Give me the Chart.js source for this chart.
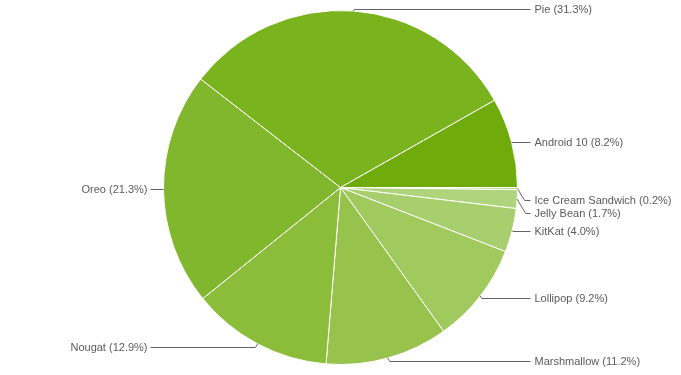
<!DOCTYPE html>
<html>
<head>
<meta charset="utf-8">
<title>Android versions</title>
<script src="https://cdn.jsdelivr.net/npm/chart.js@4/dist/chart.umd.min.js"></script>
<style>
  html, body { margin: 0; padding: 0; background: #fff; }
  #chart { display: block; }
</style>
</head>
<body>
<canvas id="chart" width="681" height="375"></canvas>
<script>
// order is clockwise, starting at 3 o'clock
const categories = ['Ice Cream Sandwich', 'Jelly Bean', 'KitKat', 'Lollipop', 'Marshmallow', 'Nougat', 'Oreo', 'Pie', 'Android 10'];
const shares = [0.2, 1.7, 4.0, 9.2, 11.2, 12.9, 21.3, 31.3, 8.2];
const sliceColors = ['#b9da8c', '#b0d47c', '#a8cf6d', '#a1ca5e', '#97c34c', '#8bbd3a', '#81b72c', '#79b31d', '#6eab0b'];

// leader lines + labels outside the pie (google charts look)
const outsideLabels = {
  id: 'outsideLabels',
  afterDraw(chart) {
    const ctx = chart.ctx;
    const arcs = chart.getDatasetMeta(0).data;
    const items = arcs.map((arc, i) => {
      const p = arc.getProps(['x', 'y', 'startAngle', 'endAngle', 'outerRadius'], true);
      const mid = (p.startAngle + p.endAngle) / 2;
      const px = p.x + p.outerRadius * Math.cos(mid);
      const py = p.y + p.outerRadius * Math.sin(mid);
      const s = Math.sin(mid);
      const drop = s > 0 ? 3.5 * s : 2 * s;
      return {
        text: categories[i] + ' (' + shares[i].toFixed(1) + '%)',
        right: Math.cos(mid) >= 0,
        lower: s >= 0,
        px, py, y: py + drop,
        cx: p.x, cy: p.y, r: p.outerRadius
      };
    });

    // push apart top-down on each side
    [true, false].forEach(side => {
      const list = items.filter(it => it.right === side).sort((a, b) => a.py - b.py);
      let prev = -Infinity;
      list.forEach(it => {
        let y = Math.max(it.y, prev + 13, 8);
        if (side && it.lower) y = Math.max(y, it.cy + 12); // keep clear of the seam at 3 o'clock
        it.y = y;
        prev = y;
      });
    });

    ctx.save();
    ctx.font = "11px 'Liberation Sans', Arial, sans-serif";
    ctx.textBaseline = 'middle';
    ctx.lineWidth = 1;
    ctx.strokeStyle = '#636363';
    ctx.fillStyle = '#5a5a5a';
    items.forEach(it => {
      const dir = it.right ? 1 : -1;
      const ly = Math.round(it.y) + 0.5;
      const bx = it.px + dir * 0.6 * Math.abs(ly - it.py);
      const endX = it.cx + dir * (it.r + 13);
      ctx.beginPath();
      ctx.moveTo(it.px, it.py);
      ctx.lineTo(bx, ly);
      ctx.lineTo(endX, ly);
      ctx.stroke();
      ctx.textAlign = it.right ? 'left' : 'right';
      ctx.fillText(it.text, endX + (it.right ? 4 : -3), ly + 0.5);
    });
    ctx.restore();
  }
};

new Chart(document.getElementById('chart'), {
  type: 'pie',
  data: {
    labels: categories,
    datasets: [{
      data: shares,
      backgroundColor: sliceColors,
      borderColor: '#ffffff',
      borderWidth: 1
    }]
  },
  options: {
    responsive: false,
    animation: false,
    rotation: 90,
    radius: 177,
    layout: { padding: 0 },
    plugins: {
      legend: { display: false },
      tooltip: { enabled: false }
    }
  },
  plugins: [outsideLabels]
});
</script>
</body>
</html>
